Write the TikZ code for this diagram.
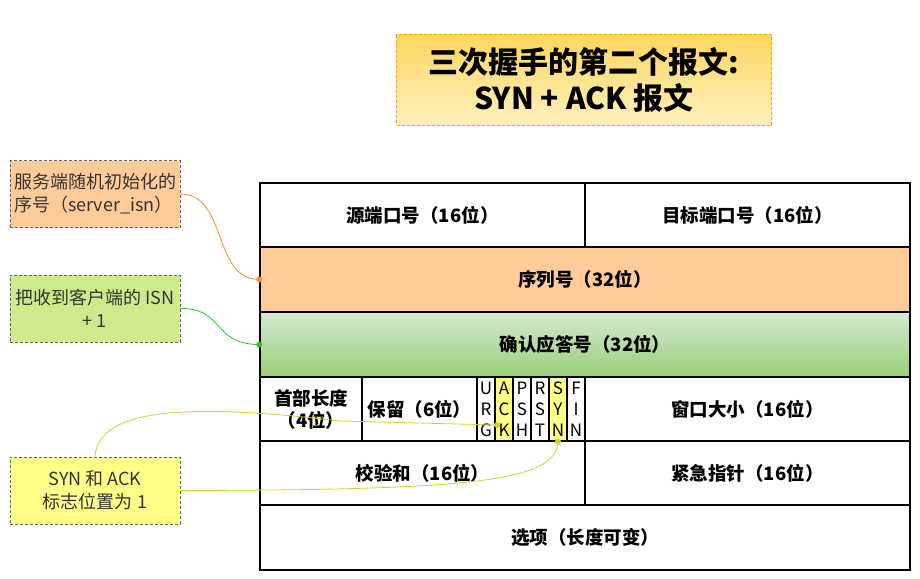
\documentclass[tikz,border=0pt]{standalone}
\usepackage{fontspec}
\setmainfont{Noto Sans CJK SC}

\definecolor{peach}{RGB}{255,204,153}
\definecolor{lime}{RGB}{205,235,139}
\definecolor{lemon}{RGB}{255,255,136}
\definecolor{oline}{RGB}{255,140,40}
\definecolor{gline}{RGB}{40,200,40}
\definecolor{yline}{RGB}{210,210,50}

\begin{document}
\begin{tikzpicture}[x=1pt,y=-1pt,
    cell/.style={draw,line width=1.3pt,inner sep=0pt,minimum height=64pt,
      font=\fontsize{18.5}{22}\selectfont\bfseries},
    flag/.style={cell,minimum width=18pt,align=center,
      font=\fontsize{17}{21}\selectfont},
    note/.style={draw=black!60,densely dashed,minimum width=170pt,minimum height=67pt,
      align=center,text=black!80,font=\fontsize{18}{23}\selectfont},
    dot/.style={circle,fill,inner sep=0pt,minimum size=6pt}]

    \useasboundingbox (0,0) rectangle (920,578);

    % title
    \node[draw=orange!70!yellow,densely dashed,line width=1pt,minimum width=375pt,minimum height=90pt,
          top color={rgb,255:red,255;green,214;blue,95},bottom color={rgb,255:red,255;green,240;blue,190},
          align=center,font=\fontsize{30}{36}\selectfont\bfseries] (title) at (584,80)
          {三次握手的第二个报文:\\ SYN + ACK 报文};

    % header rows
    \node[cell,minimum width=325pt] (sport) at (422.5,215) {源端口号（16位）};
    \node[cell,minimum width=325pt] (dport) at (747.5,215) {目标端口号（16位）};
    \node[cell,minimum width=650pt,minimum height=65pt,fill=peach] (seq) at (585,279.5) {序列号（32位）};
    \node[cell,minimum width=650pt,minimum height=65pt,
          top color={rgb,255:red,213;green,232;blue,212},bottom color={rgb,255:red,151;green,208;blue,119}]
          (ack) at (585,344.5) {确认应答号（32位）};

    \node[cell,minimum width=102pt,align=center] (hlen) at (311,409) {首部长度\\（4位）};
    \node[cell,minimum width=115pt] (rsv) at (419.5,409) {保留（6位）};
    \node[flag] (urg) at (486,409) {U\\R\\G};
    \node[flag,fill=lemon] (fack) at (504,409) {A\\C\\K};
    \node[flag] (psh) at (522,409) {P\\S\\H};
    \node[flag] (rst) at (540,409) {R\\S\\T};
    \node[flag,fill=lemon] (fsyn) at (558,409) {S\\Y\\N};
    \node[flag] (fin) at (576,409) {F\\I\\N};
    \node[cell,minimum width=325pt] (win) at (747.5,409) {窗口大小（16位）};

    \node[cell,minimum width=325pt] (csum) at (422.5,473) {校验和（16位）};
    \node[cell,minimum width=325pt] (urgp) at (747.5,473) {紧急指针（16位）};
    \node[cell,minimum width=650pt,minimum height=65pt] (opt) at (585,537.5) {选项（长度可变）};

    % notes
    \node[note,fill=peach,align=left,inner sep=2pt] (nisn) at (95,194) {服务端随机初始化的\\序号（server\_isn）};
    \node[note,fill=lime] (nack) at (95,308.5) {把收到客户端的 ISN\\+ 1};
    \node[note,fill=lemon] (nflag) at (95,490.5) {SYN 和 ACK\\标志位置为 1};

    \coordinate (ackdot) at (497,425);
    \coordinate (syndot) at (fsyn.south);

    % connectors
    \draw[oline,thick] (nisn.east) .. controls (228,194) and (212,279.5) .. (seq.west);
    \node[dot,oline] at (seq.west) {};
    \draw[gline,thick] (nack.east) .. controls (225,308) and (212,344.5) .. (ack.west);
    \node[dot,gline] at (ack.west) {};
    \draw[yline,thick] (nflag.north) .. controls (98,410) and (180,402) .. (340,421) -- (ackdot);
    \draw[yline,thick] (nflag.east) .. controls (470,490) and (556,482) .. (syndot);
    \node[dot,yline] at (ackdot) {};
    \node[dot,yline] at (syndot) {};
\end{tikzpicture}
\end{document}
